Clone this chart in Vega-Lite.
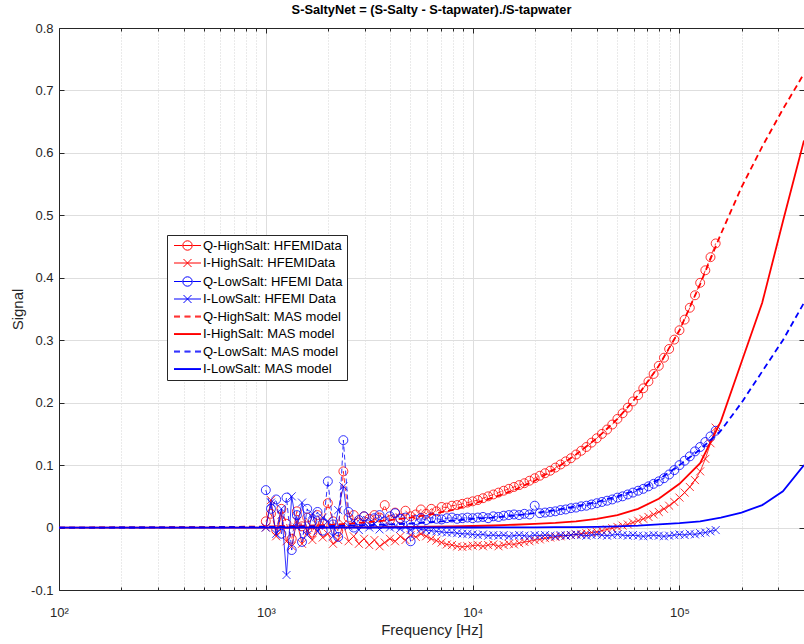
{
"$schema": "https://vega.github.io/schema/vega-lite/v6.json",
"autosize": {"type": "none"},
"width": 745, "height": 562,
"padding": {"left": 59, "top": 28, "right": 0, "bottom": 54},
"background": "white",
"title": {"text": "S-SaltyNet = (S-Salty - S-tapwater)./S-tapwater", "fontSize": 12.8, "fontWeight": "bold", "font": "Liberation Sans Narrow, Liberation Sans", "color": "#000000", "offset": 5, "anchor": "middle"},
"config": {"view": {"stroke": null}, "font": "Liberation Sans"},
"datasets": {
"meas": [
{"f":1000,"qh":0.010,"ih":0.000,"ql":0.060,"il":0.000},
{"f":1059,"qh":0.022,"ih":0.044,"ql":0.030,"il":0.040},
{"f":1122,"qh":-0.004,"ih":-0.014,"ql":0.045,"il":-0.010},
{"f":1189,"qh":0.030,"ih":0.020,"ql":-0.010,"il":0.030},
{"f":1259,"qh":0.006,"ih":-0.022,"ql":0.048,"il":-0.076},
{"f":1334,"qh":-0.018,"ih":-0.030,"ql":-0.036,"il":0.050},
{"f":1413,"qh":0.026,"ih":0.010,"ql":0.020,"il":0.000},
{"f":1496,"qh":0.002,"ih":-0.026,"ql":-0.023,"il":0.040},
{"f":1585,"qh":0.016,"ih":-0.004,"ql":0.030,"il":-0.012},
{"f":1679,"qh":-0.008,"ih":-0.020,"ql":0.010,"il":0.022},
{"f":1778,"qh":0.020,"ih":0.004,"ql":0.025,"il":-0.006},
{"f":1884,"qh":0.006,"ih":-0.016,"ql":-0.005,"il":0.016},
{"f":1995,"qh":0.039,"ih":-0.010,"ql":0.074,"il":0.010},
{"f":2113,"qh":0.010,"ih":-0.026,"ql":0.005,"il":-0.014},
{"f":2239,"qh":-0.006,"ih":-0.020,"ql":-0.015,"il":0.028},
{"f":2371,"qh":0.090,"ih":0.006,"ql":0.140,"il":0.066},
{"f":2512,"qh":0.016,"ih":-0.022,"ql":0.025,"il":0.002},
{"f":2661,"qh":0.020,"ih":-0.014,"ql":0.000,"il":0.010},
{"f":2818,"qh":0.008,"ih":-0.026,"ql":0.012,"il":-0.004},
{"f":2985,"qh":0.018,"ih":-0.018,"ql":0.018,"il":0.008},
{"f":3162,"qh":0.014,"ih":-0.028,"ql":0.005,"il":0.000},
{"f":3350,"qh":0.020,"ih":-0.020,"ql":0.015,"il":0.006},
{"f":3548,"qh":0.016,"ih":-0.030,"ql":0.020,"il":-0.003},
{"f":3758,"qh":0.036,"ih":-0.024,"ql":0.010,"il":0.004},
{"f":3981,"qh":0.012,"ih":-0.018,"ql":0.018,"il":0.000},
{"f":4217,"qh":0.024,"ih":-0.022,"ql":0.023,"il":0.002},
{"f":4467,"qh":0.015,"ih":-0.014,"ql":0.014,"il":-0.002},
{"f":4732,"qh":0.027,"ih":-0.020,"ql":0.016,"il":0.001},
{"f":5012,"qh":0.018,"ih":-0.012,"ql":-0.022,"il":-0.004},
{"f":5309,"qh":0.021,"ih":-0.015,"ql":0.012,"il":0.000},
{"f":5623,"qh":0.029,"ih":-0.010,"ql":0.015,"il":-0.003},
{"f":5957,"qh":0.022,"ih":-0.014,"ql":0.012,"il":-0.004},
{"f":6310,"qh":0.030,"ih":-0.018,"ql":0.016,"il":-0.005},
{"f":6683,"qh":0.026,"ih":-0.021,"ql":0.014,"il":-0.006},
{"f":7079,"qh":0.033,"ih":-0.024,"ql":0.013,"il":-0.007},
{"f":7499,"qh":0.032,"ih":-0.027,"ql":0.015,"il":-0.008},
{"f":7943,"qh":0.035,"ih":-0.028,"ql":0.016,"il":-0.008},
{"f":8414,"qh":0.036,"ih":-0.030,"ql":0.014,"il":-0.009},
{"f":8913,"qh":0.038,"ih":-0.031,"ql":0.015,"il":-0.010},
{"f":9441,"qh":0.040,"ih":-0.030,"ql":0.016,"il":-0.010},
{"f":10000,"qh":0.042,"ih":-0.029,"ql":0.015,"il":-0.011},
{"f":10593,"qh":0.044,"ih":-0.028,"ql":0.016,"il":-0.012},
{"f":11220,"qh":0.047,"ih":-0.030,"ql":0.017,"il":-0.011},
{"f":11885,"qh":0.050,"ih":-0.028,"ql":0.015,"il":-0.013},
{"f":12589,"qh":0.053,"ih":-0.027,"ql":0.018,"il":-0.012},
{"f":13335,"qh":0.056,"ih":-0.030,"ql":0.017,"il":-0.013},
{"f":14125,"qh":0.059,"ih":-0.028,"ql":0.019,"il":-0.012},
{"f":14962,"qh":0.062,"ih":-0.026,"ql":0.020,"il":-0.014},
{"f":15849,"qh":0.065,"ih":-0.027,"ql":0.021,"il":-0.013},
{"f":16788,"qh":0.068,"ih":-0.025,"ql":0.020,"il":-0.012},
{"f":17783,"qh":0.071,"ih":-0.023,"ql":0.022,"il":-0.013},
{"f":18836,"qh":0.075,"ih":-0.022,"ql":0.021,"il":-0.014},
{"f":19953,"qh":0.079,"ih":-0.020,"ql":0.035,"il":-0.012},
{"f":21135,"qh":0.083,"ih":-0.019,"ql":0.023,"il":-0.013},
{"f":22387,"qh":0.087,"ih":-0.017,"ql":0.024,"il":-0.012},
{"f":23714,"qh":0.091,"ih":-0.016,"ql":0.025,"il":-0.013},
{"f":25119,"qh":0.096,"ih":-0.015,"ql":0.026,"il":-0.014},
{"f":26607,"qh":0.101,"ih":-0.014,"ql":0.028,"il":-0.012},
{"f":28184,"qh":0.106,"ih":-0.013,"ql":0.029,"il":-0.013},
{"f":29854,"qh":0.111,"ih":-0.012,"ql":0.031,"il":-0.012},
{"f":31623,"qh":0.117,"ih":-0.011,"ql":0.032,"il":-0.011},
{"f":33497,"qh":0.123,"ih":-0.010,"ql":0.034,"il":-0.012},
{"f":35481,"qh":0.129,"ih":-0.009,"ql":0.035,"il":-0.013},
{"f":37584,"qh":0.136,"ih":-0.008,"ql":0.037,"il":-0.012},
{"f":39811,"qh":0.143,"ih":-0.007,"ql":0.039,"il":-0.011},
{"f":42170,"qh":0.150,"ih":-0.005,"ql":0.041,"il":-0.012},
{"f":44668,"qh":0.157,"ih":-0.003,"ql":0.043,"il":-0.013},
{"f":47315,"qh":0.165,"ih":-0.001,"ql":0.045,"il":-0.012},
{"f":50119,"qh":0.174,"ih":0.001,"ql":0.048,"il":-0.011},
{"f":53088,"qh":0.183,"ih":0.003,"ql":0.050,"il":-0.012},
{"f":56234,"qh":0.192,"ih":0.005,"ql":0.053,"il":-0.013},
{"f":59566,"qh":0.202,"ih":0.008,"ql":0.056,"il":-0.012},
{"f":63096,"qh":0.212,"ih":0.011,"ql":0.059,"il":-0.013},
{"f":66834,"qh":0.223,"ih":0.014,"ql":0.062,"il":-0.014},
{"f":70795,"qh":0.234,"ih":0.017,"ql":0.066,"il":-0.013},
{"f":74989,"qh":0.246,"ih":0.021,"ql":0.070,"il":-0.012},
{"f":79433,"qh":0.259,"ih":0.025,"ql":0.074,"il":-0.013},
{"f":84140,"qh":0.272,"ih":0.030,"ql":0.079,"il":-0.014},
{"f":89125,"qh":0.286,"ih":0.035,"ql":0.085,"il":-0.013},
{"f":94406,"qh":0.301,"ih":0.041,"ql":0.092,"il":-0.012},
{"f":100000,"qh":0.316,"ih":0.048,"ql":0.100,"il":-0.011},
{"f":105925,"qh":0.333,"ih":0.056,"ql":0.107,"il":-0.012},
{"f":112202,"qh":0.352,"ih":0.065,"ql":0.114,"il":-0.010},
{"f":118850,"qh":0.372,"ih":0.076,"ql":0.122,"il":-0.011},
{"f":125893,"qh":0.392,"ih":0.090,"ql":0.129,"il":-0.009},
{"f":133352,"qh":0.412,"ih":0.110,"ql":0.137,"il":-0.008},
{"f":141254,"qh":0.433,"ih":0.135,"ql":0.146,"il":-0.006},
{"f":149624,"qh":0.455,"ih":0.160,"ql":0.155,"il":-0.004}
],
"model": [
{"f":100,"qh":0,"ih":0,"ql":0,"il":0},
{"f":126,"qh":0,"ih":0,"ql":0,"il":0},
{"f":158,"qh":0.0001,"ih":0,"ql":0,"il":0},
{"f":200,"qh":0.0002,"ih":0,"ql":0.0001,"il":0},
{"f":251,"qh":0.0003,"ih":0,"ql":0.0001,"il":0},
{"f":316,"qh":0.0004,"ih":0,"ql":0.0002,"il":0},
{"f":398,"qh":0.0006,"ih":0,"ql":0.0003,"il":0},
{"f":501,"qh":0.0008,"ih":0,"ql":0.0004,"il":0},
{"f":631,"qh":0.001,"ih":0,"ql":0.0005,"il":0},
{"f":794,"qh":0.0013,"ih":0,"ql":0.0007,"il":0},
{"f":1000,"qh":0.0017,"ih":0,"ql":0.001,"il":0},
{"f":1259,"qh":0.0023,"ih":0.0001,"ql":0.0013,"il":0},
{"f":1585,"qh":0.003,"ih":0.0001,"ql":0.0017,"il":0},
{"f":1995,"qh":0.0042,"ih":0.0002,"ql":0.0022,"il":0},
{"f":2512,"qh":0.006,"ih":0.0003,"ql":0.003,"il":0},
{"f":3162,"qh":0.009,"ih":0.0004,"ql":0.004,"il":0.0001},
{"f":3981,"qh":0.012,"ih":0.0006,"ql":0.005,"il":0.0001},
{"f":5012,"qh":0.016,"ih":0.0009,"ql":0.0065,"il":0.0001},
{"f":6310,"qh":0.021,"ih":0.0013,"ql":0.0085,"il":0.0001},
{"f":7943,"qh":0.028,"ih":0.0018,"ql":0.011,"il":0.0001},
{"f":10000,"qh":0.038,"ih":0.0025,"ql":0.014,"il":0.0001},
{"f":12589,"qh":0.048,"ih":0.0033,"ql":0.016,"il":0.0002},
{"f":15849,"qh":0.06,"ih":0.0045,"ql":0.019,"il":0.0003},
{"f":19953,"qh":0.075,"ih":0.006,"ql":0.023,"il":0.0004},
{"f":25119,"qh":0.094,"ih":0.0075,"ql":0.028,"il":0.0006},
{"f":31623,"qh":0.117,"ih":0.01,"ql":0.034,"il":0.0008},
{"f":39811,"qh":0.143,"ih":0.014,"ql":0.041,"il":0.0012},
{"f":50119,"qh":0.174,"ih":0.02,"ql":0.05,"il":0.002},
{"f":63096,"qh":0.212,"ih":0.03,"ql":0.061,"il":0.003},
{"f":79433,"qh":0.259,"ih":0.046,"ql":0.077,"il":0.005},
{"f":100000,"qh":0.316,"ih":0.07,"ql":0.1,"il":0.007},
{"f":125893,"qh":0.39,"ih":0.103,"ql":0.125,"il":0.01},
{"f":158489,"qh":0.47,"ih":0.17,"ql":0.155,"il":0.016},
{"f":199526,"qh":0.545,"ih":0.265,"ql":0.2,"il":0.024},
{"f":251189,"qh":0.61,"ih":0.36,"ql":0.25,"il":0.036},
{"f":316228,"qh":0.67,"ih":0.49,"ql":0.3,"il":0.058},
{"f":400000,"qh":0.727,"ih":0.62,"ql":0.36,"il":0.1}
]
},
"layer": [
{"data": {"name": "meas"},
 "mark": {"type": "line", "color": "#ff0000", "strokeWidth": 0.8, "strokeDash": [5, 3]},
 "encoding": {
  "x": {"field": "f", "type": "quantitative", "scale": {"type": "log", "domain": [100, 400000], "nice": false},
   "axis": {"orient": "bottom", "values": [100,200,300,400,500,600,700,800,900,1000,2000,3000,4000,5000,6000,7000,8000,9000,10000,20000,30000,40000,50000,60000,70000,80000,90000,100000,200000,300000],
    "title": "Frequency [Hz]", "titleFontSize": 15, "titleFontWeight": "normal", "titleColor": "#262626", "titlePadding": 1,
    "labelExpr": "datum.value == 100 ? '10²' : datum.value == 1000 ? '10³' : datum.value == 10000 ? '10⁴' : datum.value == 100000 ? '10⁵' : ''",
    "labelFontSize": 13, "labelColor": "#262626", "labelFlush": false, "labelOverlap": false, "labelPadding": 21,
    "tickSize": {"condition": {"test": "indexof([100,1000,10000,100000], datum.value) < 0", "value": -3}, "value": -5},
    "tickColor": "#262626", "tickWidth": 1,
    "grid": true,
    "gridColor": {"condition": {"test": "indexof([100,1000,10000,100000], datum.value) < 0", "value": "#d4d4d4"}, "value": "#dedede"},
    "gridDash": {"condition": {"test": "indexof([100,1000,10000,100000], datum.value) < 0", "value": [1, 2]}, "value": []},
    "gridWidth": 1, "domainColor": "#262626", "domainWidth": 1}},
  "y": {"field": "qh", "type": "quantitative", "scale": {"domain": [-0.1, 0.8], "nice": false, "zero": false},
   "axis": {"orient": "left", "values": [-0.1,0,0.1,0.2,0.3,0.4,0.5,0.6,0.7,0.8],
    "title": "Signal", "titleFontSize": 15, "titleFontWeight": "normal", "titleColor": "#262626", "titlePadding": 5,
    "labelExpr": "datum.value == 0 ? '0' : (datum.value < 0 ? '-' : '') + format(abs(datum.value), '.1f')",
    "labelFontSize": 13, "labelColor": "#262626", "labelFlush": false, "labelOverlap": false, "labelPadding": 11,
    "tickSize": -5, "tickColor": "#262626", "tickWidth": 1,
    "grid": true, "gridColor": "#dedede", "gridWidth": 1, "domainColor": "#262626", "domainWidth": 1}}
 }},
{"data": {"name": "meas"},
 "mark": {"type": "point", "shape": "circle", "filled": false, "color": "#ff0000", "size": 80, "strokeWidth": 0.8, "opacity": 1},
 "encoding": {
  "x": {"field": "f", "type": "quantitative",
   "axis": {"orient": "top", "values": [100,200,300,400,500,600,700,800,900,1000,2000,3000,4000,5000,6000,7000,8000,9000,10000,20000,30000,40000,50000,60000,70000,80000,90000,100000,200000,300000],
    "title": null, "labels": false, "grid": false,
    "tickSize": {"condition": {"test": "indexof([100,1000,10000,100000], datum.value) < 0", "value": -3}, "value": -5},
    "tickColor": "#262626", "tickWidth": 1, "domainColor": "#262626", "domainWidth": 1}},
  "y": {"field": "qh", "type": "quantitative",
   "axis": {"orient": "right", "values": [-0.1,0,0.1,0.2,0.3,0.4,0.5,0.6,0.7,0.8], "title": null, "labels": false, "grid": false,
    "tickSize": -5, "tickColor": "#262626", "tickWidth": 1, "domainColor": "#262626", "domainWidth": 1}}
 }},
{"data": {"name": "meas"},
 "mark": {"type": "line", "color": "#ff0000", "strokeWidth": 0.8},
 "encoding": {"x": {"field": "f", "type": "quantitative", "axis": null}, "y": {"field": "ih", "type": "quantitative", "axis": null}}},
{"data": {"name": "meas"},
 "mark": {"type": "point", "shape": "M-1,-1L1,1M-1,1L1,-1", "filled": false, "color": "#ff0000", "size": 64, "strokeWidth": 0.8, "opacity": 1},
 "encoding": {"x": {"field": "f", "type": "quantitative", "axis": null}, "y": {"field": "ih", "type": "quantitative", "axis": null}}},
{"data": {"name": "meas"},
 "mark": {"type": "line", "color": "#0000ff", "strokeWidth": 0.8, "strokeDash": [5, 3]},
 "encoding": {"x": {"field": "f", "type": "quantitative", "axis": null}, "y": {"field": "ql", "type": "quantitative", "axis": null}}},
{"data": {"name": "meas"},
 "mark": {"type": "point", "shape": "circle", "filled": false, "color": "#0000ff", "size": 80, "strokeWidth": 0.8, "opacity": 1},
 "encoding": {"x": {"field": "f", "type": "quantitative", "axis": null}, "y": {"field": "ql", "type": "quantitative", "axis": null}}},
{"data": {"name": "meas"},
 "mark": {"type": "line", "color": "#0000ff", "strokeWidth": 0.8},
 "encoding": {"x": {"field": "f", "type": "quantitative", "axis": null}, "y": {"field": "il", "type": "quantitative", "axis": null}}},
{"data": {"name": "meas"},
 "mark": {"type": "point", "shape": "M-1,-1L1,1M-1,1L1,-1", "filled": false, "color": "#0000ff", "size": 64, "strokeWidth": 0.8, "opacity": 1},
 "encoding": {"x": {"field": "f", "type": "quantitative", "axis": null}, "y": {"field": "il", "type": "quantitative", "axis": null}}},
{"data": {"name": "model"},
 "mark": {"type": "line", "color": "#ff0000", "strokeWidth": 1.8, "strokeDash": [6, 4]},
 "encoding": {"x": {"field": "f", "type": "quantitative", "axis": null}, "y": {"field": "qh", "type": "quantitative", "axis": null}}},
{"data": {"name": "model"},
 "mark": {"type": "line", "color": "#ff0000", "strokeWidth": 1.8},
 "encoding": {"x": {"field": "f", "type": "quantitative", "axis": null}, "y": {"field": "ih", "type": "quantitative", "axis": null}}},
{"data": {"name": "model"},
 "mark": {"type": "line", "color": "#0000ff", "strokeWidth": 1.8, "strokeDash": [6, 4]},
 "encoding": {"x": {"field": "f", "type": "quantitative", "axis": null}, "y": {"field": "ql", "type": "quantitative", "axis": null}}},
{"data": {"name": "model"},
 "mark": {"type": "line", "color": "#0000ff", "strokeWidth": 1.8},
 "encoding": {"x": {"field": "f", "type": "quantitative", "axis": null}, "y": {"field": "il", "type": "quantitative", "axis": null}}},
{"data": {"values": [
  {"series": "Q-HighSalt: HFEMIData"}, {"series": "I-HighSalt: HFEMIData"}, {"series": "Q-LowSalt: HFEMI Data"}, {"series": "I-LowSalt: HFEMI Data"},
  {"series": "Q-HighSalt: MAS model"}, {"series": "I-HighSalt: MAS model"}, {"series": "Q-LowSalt: MAS model"}, {"series": "I-LowSalt: MAS model"}]},
 "transform": [{"filter": "false"}],
 "mark": {"type": "point", "filled": false, "opacity": 1},
 "encoding": {
  "color": {"field": "series", "type": "nominal",
   "scale": {"domain": ["Q-HighSalt: HFEMIData", "I-HighSalt: HFEMIData", "Q-LowSalt: HFEMI Data", "I-LowSalt: HFEMI Data", "Q-HighSalt: MAS model", "I-HighSalt: MAS model", "Q-LowSalt: MAS model", "I-LowSalt: MAS model"],
    "range": ["#ff0000", "#ff0000", "#0000ff", "#0000ff", "#ff0000", "#ff0000", "#0000ff", "#0000ff"]},
   "legend": {"title": null, "orient": "none", "legendX": 108, "legendY": 207, "fillColor": "#ffffff", "strokeColor": "#262626", "padding": 4,
    "labelFont": "Liberation Sans", "labelFontSize": 13, "labelColor": "#000000", "labelOffset": 9, "labelLimit": 400,
    "symbolSize": 100, "symbolOffset": 10, "symbolStrokeWidth": 1, "symbolFillColor": "transparent", "rowPadding": 3.5,
    "encode": {"symbols": {"update": {"fill": {"value": "transparent"}, "opacity": {"value": 1}}}}}},
  "shape": {"field": "series", "type": "nominal",
   "scale": {"domain": ["Q-HighSalt: HFEMIData", "I-HighSalt: HFEMIData", "Q-LowSalt: HFEMI Data", "I-LowSalt: HFEMI Data", "Q-HighSalt: MAS model", "I-HighSalt: MAS model", "Q-LowSalt: MAS model", "I-LowSalt: MAS model"],
    "range": ["M-2.7,0H-1.05M1.05,0H2.7M0.94,0A0.94,0.94,0,1,1,-0.94,0A0.94,0.94,0,1,1,0.94,0M-0.94,0H0.94",
              "M-2.7,0H2.7M-0.8,-0.8L0.8,0.8M-0.8,0.8L0.8,-0.8",
              "M-2.7,0H-1.05M1.05,0H2.7M0.94,0A0.94,0.94,0,1,1,-0.94,0A0.94,0.94,0,1,1,0.94,0M-0.94,0H0.94",
              "M-2.7,0H2.7M-0.8,-0.8L0.8,0.8M-0.8,0.8L0.8,-0.8",
              "M-2.7,-0.08H-1.5M-0.6,-0.08H0.6M1.5,-0.08H2.7M-2.7,0.1H-1.5M-0.6,0.1H0.6M1.5,0.1H2.7",
              "M-2.7,-0.08H2.7M-2.7,0.1H2.7",
              "M-2.7,-0.08H-1.5M-0.6,-0.08H0.6M1.5,-0.08H2.7M-2.7,0.1H-1.5M-0.6,0.1H0.6M1.5,0.1H2.7",
              "M-2.7,-0.08H2.7M-2.7,0.1H2.7"]},
   "legend": {"title": null, "orient": "none", "legendX": 108, "legendY": 207, "fillColor": "#ffffff", "strokeColor": "#262626", "padding": 4,
    "labelFont": "Liberation Sans", "labelFontSize": 13, "labelColor": "#000000", "labelOffset": 9, "labelLimit": 400,
    "symbolSize": 100, "symbolOffset": 10, "symbolStrokeWidth": 1, "symbolFillColor": "transparent", "rowPadding": 3.5,
    "encode": {"symbols": {"update": {"fill": {"value": "transparent"}, "opacity": {"value": 1}}}}}}
 }}
],
"resolve": {"axis": {"x": "independent", "y": "independent"}}
}
